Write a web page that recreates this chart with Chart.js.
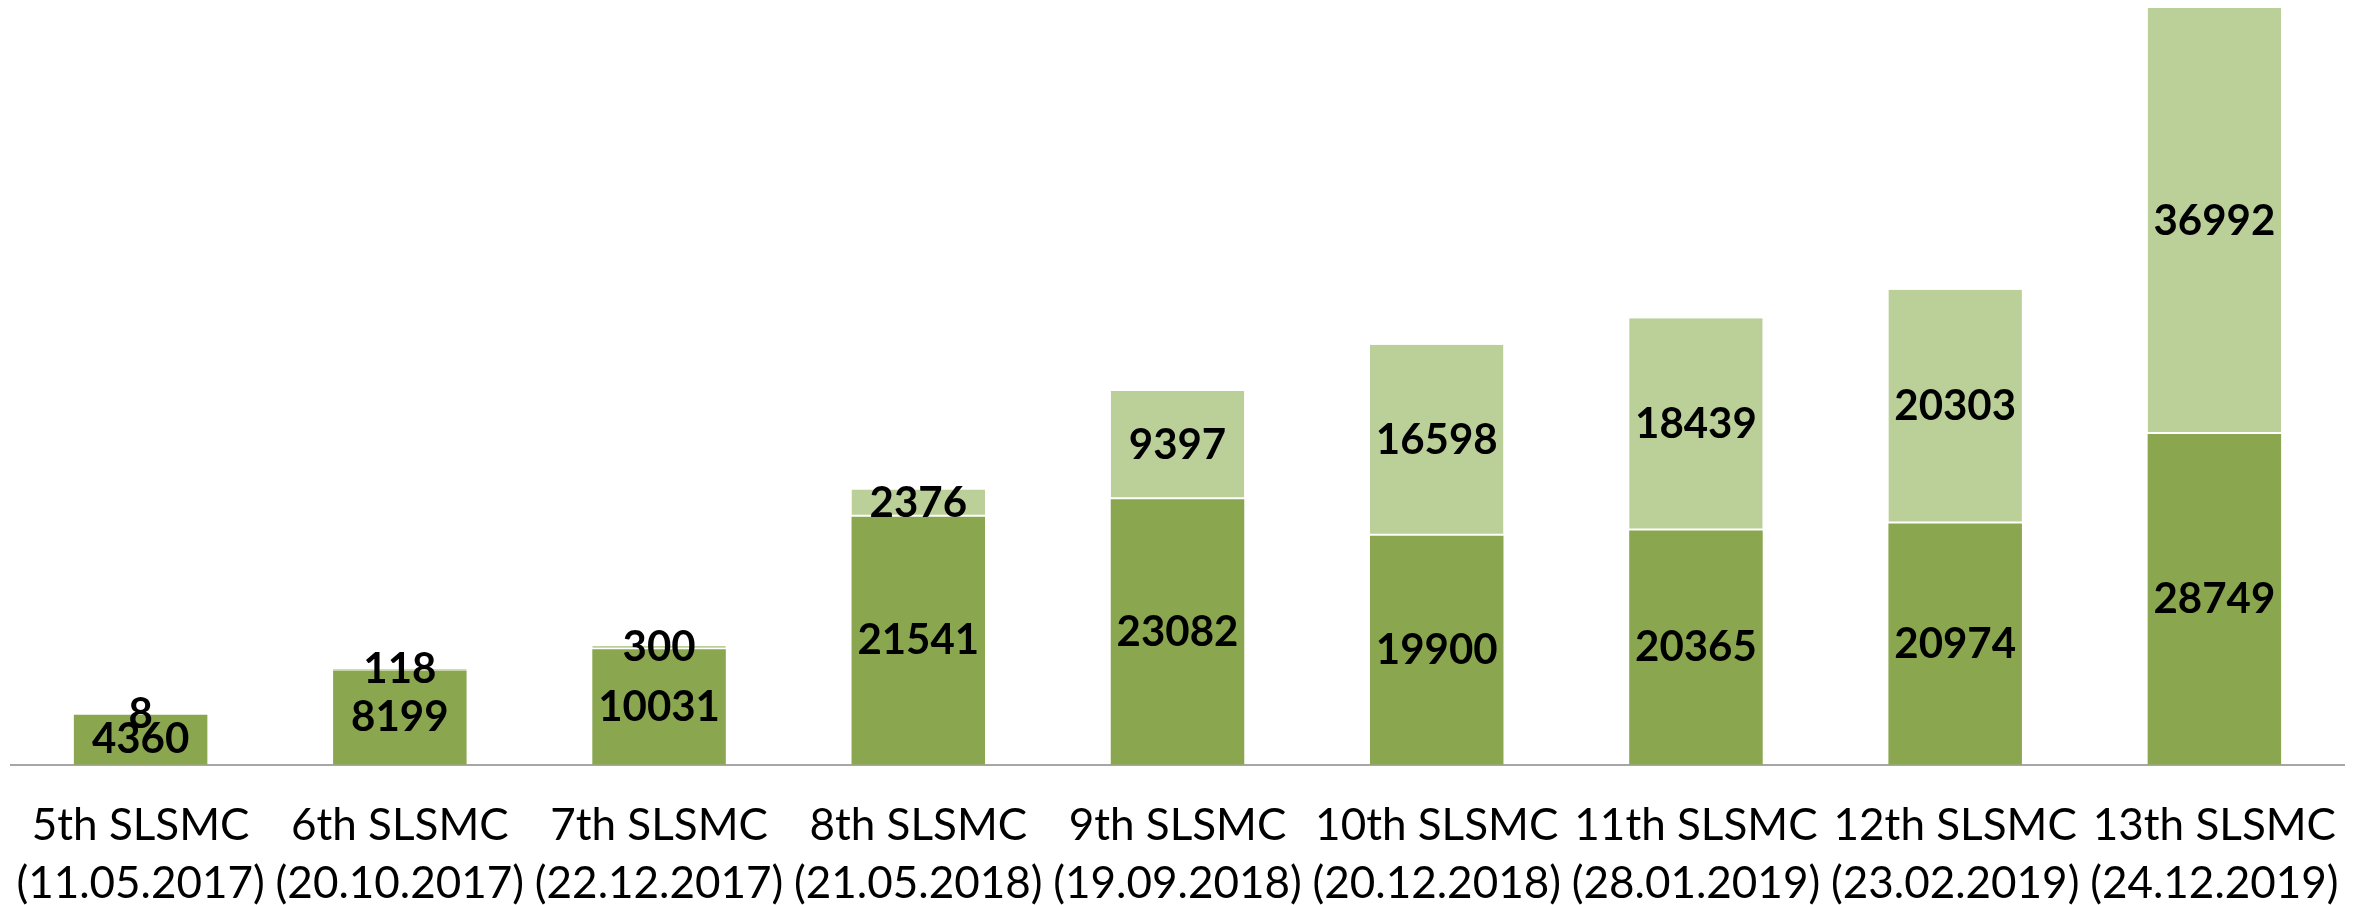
<!DOCTYPE html>
<html>
<head>
<meta charset="utf-8">
<script src="https://cdn.jsdelivr.net/npm/chart.js@4/dist/chart.umd.min.js"></script>
<style>
  body { margin: 0; background: #ffffff; }
  #wrap { width: 2354px; height: 905px; }
</style>
</head>
<body>
<div id="wrap"><canvas id="slsmcChart"></canvas></div>
<script>
const categories = [
    ['5th SLSMC', '(11.05.2017)'],
    ['6th SLSMC', '(20.10.2017)'],
    ['7th SLSMC', '(22.12.2017)'],
    ['8th SLSMC', '(21.05.2018)'],
    ['9th SLSMC', '(19.09.2018)'],
    ['10th SLSMC', '(20.12.2018)'],
    ['11th SLSMC', '(28.01.2019)'],
    ['12th SLSMC', '(23.02.2019)'],
    ['13th SLSMC', '(24.12.2019)']
];
const lowerValues = [4360, 8199, 10031, 21541, 23082, 19900, 20365, 20974, 28749];
const upperValues = [8, 118, 300, 2376, 9397, 16598, 18439, 20303, 36992];

const fontFamily = 'Lato, "Open Sans", sans-serif';

// draws the value in the middle of every bar segment
const centerLabels = {
    id: 'centerLabels',
    afterDatasetsDraw(chart) {
        const c = chart.ctx;
        c.save();
        c.font = 'bold 42px ' + fontFamily;
        c.fillStyle = '#000000';
        c.textAlign = 'center';
        c.textBaseline = 'middle';
        chart.data.datasets.forEach((ds, i) => {
            const meta = chart.getDatasetMeta(i);
            meta.data.forEach((bar, j) => {
                c.fillText(String(ds.data[j]), bar.x, (bar.y + bar.base) / 2);
            });
        });
        c.restore();
    }
};

const ctx = document.getElementById('slsmcChart').getContext('2d');
const chart = new Chart(ctx, {
    type: 'bar',
    data: {
        labels: categories,
        datasets: [{
            label: 'Lower',
            data: lowerValues,
            backgroundColor: '#8aa64e',
            borderWidth: 0,
            categoryPercentage: 1,
            barPercentage: 0.515
        }, {
            label: 'Upper',
            data: upperValues,
            backgroundColor: '#bbcf99',
            borderColor: '#ffffff',
            borderWidth: { top: 0, left: 0, right: 0, bottom: 2 },
            borderSkipped: false,
            categoryPercentage: 1,
            barPercentage: 0.515
        }]
    },
    options: {
        responsive: true,
        maintainAspectRatio: false,
        animation: false,
        layout: {
            padding: { left: 11, right: 10, top: 0, bottom: -40 }
        },
        plugins: {
            legend: { display: false },
            tooltip: { enabled: false }
        },
        scales: {
            x: {
                stacked: true,
                grid: { display: false, drawTicks: false },
                border: { display: true, color: '#a6a6a6', width: 2 },
                ticks: {
                    color: '#000000',
                    padding: 32,
                    maxRotation: 0,
                    autoSkip: false,
                    font: { family: fontFamily, size: 44, lineHeight: 1.32 }
                },
                // edge labels fit inside their category, no extra side room needed
                afterFit: (scale) => {
                    scale.paddingLeft = 0;
                    scale.paddingRight = 0;
                }
            },
            y: {
                stacked: true,
                display: false,
                min: 0,
                max: 66440
            }
        }
    },
    plugins: [centerLabels]
});
</script>
</body>
</html>
